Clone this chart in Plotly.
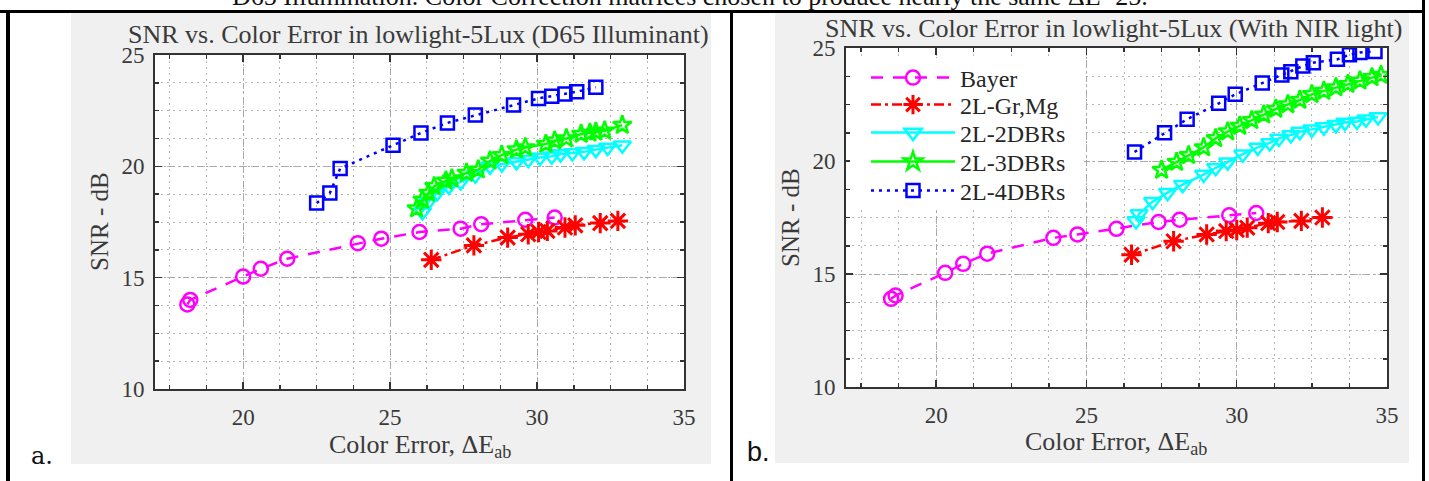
import plotly.graph_objects as go

W, H = 1429, 481

series_names = ["Bayer", "2L-Gr,Mg", "2L-2DBRs", "2L-3DBRs", "2L-4DBRs"]

# ---- Panel a: D65 illuminant ----
a_bayer_x = [18.1, 18.2, 20.0, 20.6, 21.5, 23.9, 24.7, 26.0, 27.4, 28.1, 29.6, 30.6]
a_bayer_y = [13.8, 14.0, 15.05, 15.4, 15.85, 16.55, 16.75, 17.05, 17.2, 17.4, 17.6, 17.7]

a_grmg_x = [26.4, 27.85, 29.0, 29.7, 30.05, 30.35, 30.95, 31.3, 32.15, 32.75]
a_grmg_y = [15.8, 16.45, 16.8, 16.95, 17.05, 17.1, 17.25, 17.35, 17.45, 17.55]

a_2dbr_x = [26.1, 26.3, 26.6, 27.0, 27.4, 27.9, 28.4, 28.8, 29.3, 29.7, 30.1, 30.5, 30.8, 31.2, 31.6, 32.0, 32.4, 32.9]
a_2dbr_y = [17.95, 18.4, 18.8, 19.1, 19.3, 19.6, 20.0, 20.1, 20.2, 20.3, 20.4, 20.45, 20.55, 20.6, 20.65, 20.75, 20.85, 20.95]

a_3dbr_x = [25.9, 26.1, 26.3, 26.5, 26.9, 27.1, 27.6, 28.0, 28.4, 28.8, 29.3, 29.6, 30.3, 30.6, 31.0, 31.5, 31.8, 32.0, 32.3, 32.9]
a_3dbr_y = [18.1, 18.5, 18.8, 19.1, 19.35, 19.45, 19.7, 19.85, 20.25, 20.5, 20.75, 20.85, 21.0, 21.15, 21.25, 21.45, 21.5, 21.55, 21.6, 21.85]

a_4dbr_x = [22.5, 22.95, 23.3, 25.1, 26.05, 26.95, 27.9, 29.2, 30.05, 30.5, 30.95, 31.35, 32.0]
a_4dbr_y = [18.35, 18.8, 19.9, 20.95, 21.5, 21.95, 22.3, 22.75, 23.05, 23.15, 23.25, 23.35, 23.55]

# ---- Panel b: with NIR light ----
b_bayer_x = [18.5, 18.65, 20.3, 20.9, 21.7, 23.9, 24.7, 26.0, 27.4, 28.1, 29.75, 30.65]
b_bayer_y = [13.9, 14.05, 15.05, 15.45, 15.9, 16.6, 16.75, 17.0, 17.3, 17.4, 17.6, 17.7]

b_grmg_x = [26.5, 27.9, 29.0, 29.65, 30.0, 30.35, 31.05, 31.35, 32.15, 32.85]
b_grmg_y = [15.85, 16.45, 16.75, 16.9, 16.95, 17.05, 17.25, 17.3, 17.35, 17.5]

b_2dbr_x = [26.65, 26.75, 27.2, 27.7, 28.2, 28.9, 29.3, 29.7, 30.2, 30.7, 31.1, 31.4, 31.8, 32.1, 32.5, 32.9, 33.3, 33.6, 34.0, 34.3, 34.7]
b_2dbr_y = [17.35, 17.65, 18.2, 18.6, 18.95, 19.4, 19.7, 19.95, 20.3, 20.6, 20.8, 21.0, 21.15, 21.3, 21.4, 21.5, 21.6, 21.7, 21.75, 21.85, 21.95]

b_3dbr_x = [27.5, 28.0, 28.4, 28.9, 29.3, 29.7, 30.1, 30.5, 30.9, 31.3, 31.7, 32.1, 32.5, 32.9, 33.3, 33.7, 34.1, 34.5, 34.8]
b_3dbr_y = [19.6, 19.95, 20.25, 20.6, 21.0, 21.3, 21.55, 21.8, 22.05, 22.3, 22.5, 22.7, 22.95, 23.1, 23.25, 23.4, 23.55, 23.7, 23.8]

b_4dbr_x = [26.6, 27.6, 28.35, 29.4, 29.95, 30.85, 31.5, 31.8, 32.2, 32.55, 33.35, 33.75, 34.1, 34.6]
b_4dbr_y = [20.4, 21.25, 21.85, 22.55, 22.95, 23.45, 23.8, 23.95, 24.2, 24.35, 24.5, 24.7, 24.8, 24.85]

x_ticks = [20, 25, 30, 35]
y_ticks = [10, 15, 20, 25]

title_a = "SNR vs. Color Error in lowlight-5Lux (D65 Illuminant)"
title_b = "SNR vs. Color Error in lowlight-5Lux (With NIR light)"
caption = "D65 Illumination. Color Correction matrices chosen to produce nearly the same \u0394E=25."

styles = [
    dict(color="#FF00FF", dash="12px,10px", symbol="circle-open", size=14, lw=2.5),
    dict(color="#FF0000", dash="10px,4px,3px,4px", symbol="asterisk-open", size=17, lw=3),
    dict(color="#00FFFF", dash="solid", symbol="triangle-down-open", size=15, lw=2.5),
    dict(color="#00FF00", dash="solid", symbol="star-open", size=14, lw=2.5),
    dict(color="#0000FF", dash="3px,5px", symbol="square-open", size=13, lw=2.5),
]

panel_a = [(a_bayer_x, a_bayer_y), (a_grmg_x, a_grmg_y), (a_2dbr_x, a_2dbr_y),
           (a_3dbr_x, a_3dbr_y), (a_4dbr_x, a_4dbr_y)]
panel_b = [(b_bayer_x, b_bayer_y), (b_grmg_x, b_grmg_y), (b_2dbr_x, b_2dbr_y),
           (b_3dbr_x, b_3dbr_y), (b_4dbr_x, b_4dbr_y)]

legend_ids = ["legend", "legend2", "legend3", "legend4", "legend5"]

fig = go.Figure()
for (xs, ys), name, st in zip(panel_a, series_names, styles):
    fig.add_trace(go.Scatter(
        x=xs, y=ys, name=name, mode="lines+markers", xaxis="x", yaxis="y",
        showlegend=False,
        line=dict(color=st["color"], width=2.5, dash=st["dash"]),
        marker=dict(symbol=st["symbol"], size=st["size"],
                    line=dict(color=st["color"], width=st["lw"]), color=st["color"]),
    ))
for (xs, ys), name, st, lg in zip(panel_b, series_names, styles, legend_ids):
    fig.add_trace(go.Scatter(
        x=xs, y=ys, name=name, mode="lines+markers", xaxis="x2", yaxis="y2",
        showlegend=True, legend=lg,
        line=dict(color=st["color"], width=2.5, dash=st["dash"]),
        marker=dict(symbol=st["symbol"], size=st["size"],
                    line=dict(color=st["color"], width=st["lw"]), color=st["color"]),
    ))

def px_x(p):
    return p / W

def px_y(p):
    return 1 - p / H

serif = "Liberation Serif"
axcol = "#333333"
txtcol = "#3a3a3a"

def xaxis_cfg(domain, anchor):
    return dict(
        domain=domain, anchor=anchor, range=[17, 35], tickvals=x_ticks,
        ticks="inside", ticklen=7, tickwidth=1.5, tickcolor=axcol,
        showline=True, linecolor=axcol, linewidth=2, mirror="allticks",
        showgrid=True, gridcolor="#a8a8a8", gridwidth=1, griddash="6px,3px,2px,3px",
        zeroline=False, automargin=False,
        tickfont=dict(family=serif, size=23, color=txtcol), ticklabelstandoff=6,
        minor=dict(dtick=1.25, tick0=20, ticks="inside", ticklen=4, tickcolor=axcol,
                   showgrid=True, gridcolor="#b5b5b5", gridwidth=1, griddash="2px,4px"),
    )

def yaxis_cfg(domain, anchor):
    return dict(
        domain=domain, anchor=anchor, range=[10, 25], tickvals=y_ticks,
        ticks="inside", ticklen=7, tickwidth=1.5, tickcolor=axcol,
        showline=True, linecolor=axcol, linewidth=2, mirror="allticks",
        showgrid=True, gridcolor="#a8a8a8", gridwidth=1, griddash="6px,3px,2px,3px",
        zeroline=False, automargin=False,
        tickfont=dict(family=serif, size=23, color=txtcol), ticklabelstandoff=4,
        minor=dict(dtick=1.25, tick0=10, ticks="inside", ticklen=4, tickcolor=axcol,
                   showgrid=True, gridcolor="#b5b5b5", gridwidth=1, griddash="2px,4px"),
    )

xa_dom = [px_x(155), px_x(684)]
ya_dom = [px_y(389), px_y(55)]
xb_dom = [px_x(846), px_x(1387)]
yb_dom = [px_y(387), px_y(48)]

shapes = []
def prect(x0, y0, x1, y1, color, layer="below"):
    shapes.append(dict(type="rect", xref="paper", yref="paper",
                       x0=px_x(x0), x1=px_x(x1), y0=px_y(y1), y1=px_y(y0),
                       fillcolor=color, line=dict(width=0), layer=layer))

# panel backgrounds
prect(71, 13, 711, 464, "#F0F0F0")
prect(775, 13, 1409, 463, "#F0F0F0")
# white plot areas
for xr, yr in (("x", "y"), ("x2", "y2")):
    shapes.append(dict(type="rect", xref=xr + " domain", yref=yr + " domain",
                       x0=0, x1=1, y0=0, y1=1, fillcolor="white",
                       line=dict(width=0), layer="below"))
# white legend box (covers grid lines, like the original)
prect(850, 58, 1082, 208, "white", "above")
# black frame lines
prect(0, 10, 1425, 13, "black", "above")
prect(6, 10, 10, 481, "black", "above")
prect(730, 13, 733, 481, "black", "above")
prect(1422, 0, 1425, 481, "black", "above")

annotations = [
    dict(text=caption, x=px_x(690), y=px_y(-4), xref="paper", yref="paper",
         showarrow=False, xanchor="center", yanchor="middle",
         font=dict(family=serif, size=26, color="#111111")),
    dict(text=title_a, x=px_x(418), y=px_y(34), xref="paper", yref="paper",
         showarrow=False, xanchor="center", yanchor="middle",
         font=dict(family=serif, size=26, color=txtcol)),
    dict(text=title_b, x=px_x(1113), y=px_y(29), xref="paper", yref="paper",
         showarrow=False, xanchor="center", yanchor="middle",
         font=dict(family=serif, size=26, color=txtcol)),
    dict(text="Color Error, \u0394E<sub>ab</sub>", x=px_x(420), y=px_y(446), xref="paper", yref="paper",
         showarrow=False, xanchor="center", yanchor="middle",
         font=dict(family=serif, size=26, color=txtcol)),
    dict(text="Color Error, \u0394E<sub>ab</sub>", x=px_x(1116), y=px_y(443), xref="paper", yref="paper",
         showarrow=False, xanchor="center", yanchor="middle",
         font=dict(family=serif, size=26, color=txtcol)),
    dict(text="SNR - dB", x=px_x(99), y=px_y(222), xref="paper", yref="paper",
         showarrow=False, xanchor="center", yanchor="middle", textangle=-90,
         font=dict(family=serif, size=25, color=txtcol)),
    dict(text="SNR - dB", x=px_x(791), y=px_y(217), xref="paper", yref="paper",
         showarrow=False, xanchor="center", yanchor="middle", textangle=-90,
         font=dict(family=serif, size=25, color=txtcol)),
    dict(text="a.", x=px_x(42), y=px_y(456), xref="paper", yref="paper",
         showarrow=False, xanchor="center", yanchor="middle",
         font=dict(family="DejaVu Serif", size=24, color="#111111")),
    dict(text="b.", x=px_x(758), y=px_y(452), xref="paper", yref="paper",
         showarrow=False, xanchor="center", yanchor="middle",
         font=dict(family="Liberation Sans", size=27, color="#111111")),
]

legend_centers = [78, 105, 133, 162, 191]
legend_layouts = {}
for lg, cy in zip(legend_ids, legend_centers):
    legend_layouts[lg] = dict(
        x=px_x(866), y=px_y(cy), xanchor="left", yanchor="middle",
        bgcolor="rgba(0,0,0,0)", borderwidth=0, itemwidth=84,
        font=dict(family=serif, size=24, color="#262626"))

fig.update_layout(
    width=W, height=H,
    margin=dict(l=0, r=0, t=0, b=0, pad=0, autoexpand=False),
    paper_bgcolor="white", plot_bgcolor="rgba(0,0,0,0)",
    xaxis=xaxis_cfg(xa_dom, "y"), yaxis=yaxis_cfg(ya_dom, "x"),
    xaxis2=xaxis_cfg(xb_dom, "y2"), yaxis2=yaxis_cfg(yb_dom, "x2"),
    shapes=shapes, annotations=annotations,
    showlegend=True,
    **legend_layouts,
)

fig.write_html(
    "out.html",
    config={"displayModeBar": False, "staticPlot": True},
    post_script="document.body.style.margin='0px';document.body.style.overflow='hidden';",
)
